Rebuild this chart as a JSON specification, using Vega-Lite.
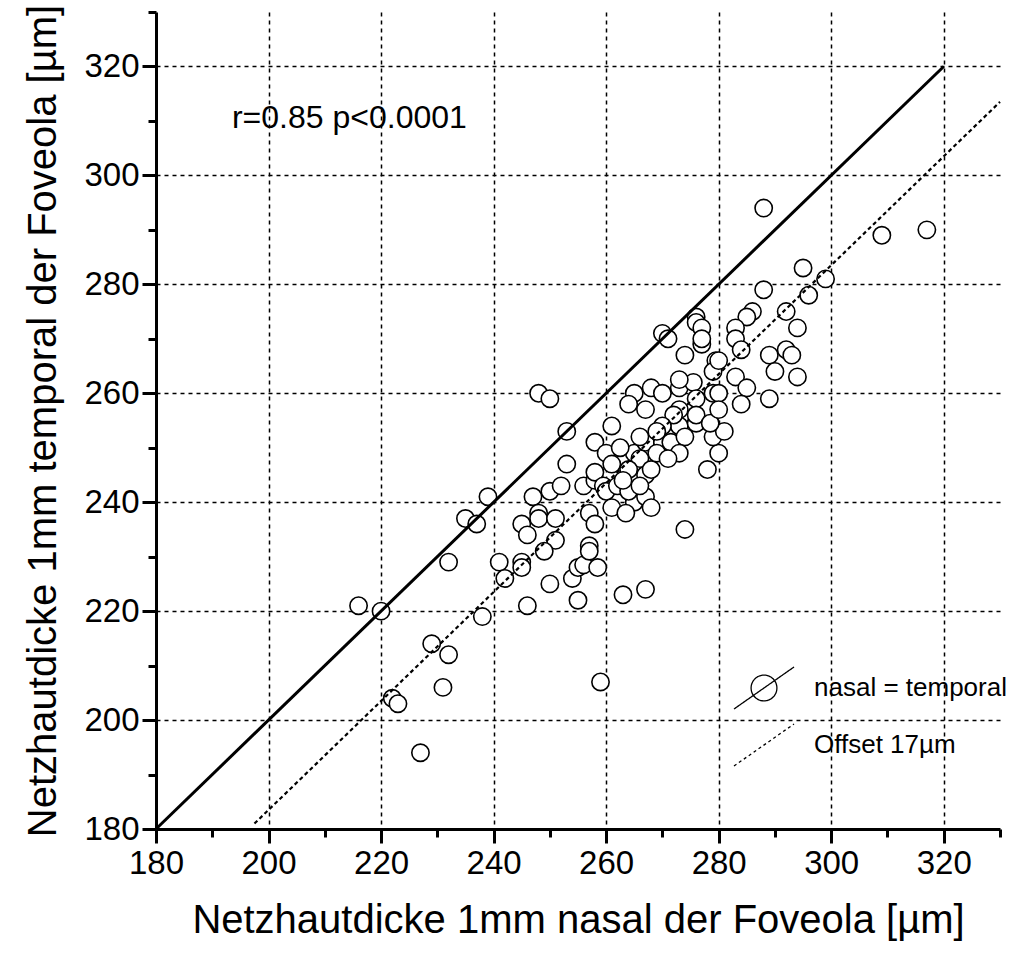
{
  "$schema": "https://vega.github.io/schema/vega-lite/v6.json",
  "width": 844,
  "height": 817,
  "autosize": "none",
  "padding": {"left": 156, "top": 12, "right": 11, "bottom": 129},
  "background": "white",
  "config": {
    "view": {"stroke": null},
    "font": "Liberation Sans"
  },
  "datasets": {
    "points": [
      {"n":216,"t":221},{"n":220,"t":220},{"n":222,"t":204},{"n":223,"t":203},{"n":227,"t":194},{"n":229,"t":214},{"n":231,"t":206},{"n":232,"t":212},{"n":232,"t":229},{"n":235,"t":237},{"n":237,"t":236},{"n":238,"t":219},{"n":239,"t":241},{"n":241,"t":229},{"n":242,"t":226},{"n":245,"t":229},{"n":245,"t":228},{"n":246,"t":221},{"n":245,"t":236},{"n":246,"t":234},{"n":247,"t":241},{"n":248,"t":238},{"n":248,"t":237},{"n":251,"t":237},{"n":251,"t":233},{"n":249,"t":231},{"n":250,"t":225},{"n":250,"t":242},{"n":252,"t":243},{"n":253,"t":253},{"n":253,"t":247},{"n":248,"t":260},{"n":250,"t":259},{"n":254,"t":226},{"n":255,"t":228},{"n":256,"t":228.5},{"n":258.5,"t":228},{"n":255,"t":222},{"n":257,"t":232},{"n":257,"t":231},{"n":263,"t":223},{"n":267,"t":224},{"n":259,"t":207},{"n":274,"t":235},
      {"n":256,"t":243},{"n":258,"t":244},{"n":258,"t":245.5},{"n":259.5,"t":243},{"n":260,"t":242},{"n":261,"t":239},{"n":257,"t":238},{"n":258,"t":236},{"n":258,"t":251},{"n":260,"t":249},{"n":261,"t":247},{"n":261,"t":254},
      {"n":262,"t":243},{"n":265,"t":240},{"n":263.5,"t":238},{"n":264,"t":242},{"n":265,"t":249},{"n":267,"t":251},{"n":270,"t":251},{"n":271.5,"t":251},{"n":273,"t":254},{"n":276,"t":254.5},{"n":274,"t":252},{"n":267,"t":245},{"n":267,"t":241},{"n":268,"t":239},{"n":273,"t":249},{"n":278,"t":246},{"n":280,"t":249},{"n":279,"t":252},{"n":281,"t":253},
      {"n":270,"t":271},{"n":271,"t":270},{"n":276,"t":274},{"n":276,"t":273},{"n":277,"t":272},{"n":277,"t":269},{"n":274,"t":267},{"n":279.5,"t":266},{"n":279,"t":264},{"n":265,"t":260},{"n":268,"t":261},{"n":270,"t":260},{"n":273,"t":261},{"n":275.5,"t":262},{"n":273,"t":262.5},{"n":264,"t":258},{"n":267,"t":257},{"n":273,"t":257},{"n":276,"t":259},{"n":279,"t":260},{"n":272,"t":256},{"n":276,"t":256},{"n":270,"t":254},{"n":278.5,"t":254.5},
      {"n":288,"t":279},{"n":296,"t":278},{"n":299,"t":281},{"n":295,"t":283},{"n":292,"t":275},{"n":294,"t":272},{"n":286,"t":275},{"n":285,"t":274},{"n":283,"t":272},{"n":283,"t":270},{"n":284,"t":268},{"n":280,"t":266},{"n":283,"t":263},{"n":285,"t":261},{"n":284,"t":258},{"n":280,"t":260},{"n":280,"t":257},{"n":289,"t":267},{"n":292,"t":268},{"n":293,"t":267},{"n":290,"t":264},{"n":294,"t":263},{"n":289,"t":259},{"n":277,"t":270},
      {"n":288,"t":294},{"n":309,"t":289},{"n":317,"t":290},
      {"n":266,"t":248},{"n":268,"t":246},{"n":269,"t":249},{"n":264,"t":246},{"n":262.5,"t":250},{"n":266,"t":252},{"n":269,"t":253},{"n":271,"t":248},{"n":263,"t":244},{"n":266,"t":243}
    ],
    "lines": [
      {"line":"nasal = temporal","n":180,"t":180},
      {"line":"nasal = temporal","n":320,"t":320},
      {"line":"Offset 17µm","n":197.5,"t":181},
      {"line":"Offset 17µm","n":330,"t":313.5}
    ],
    "note": [
      {"label": "r=0.85  p<0.0001"}
    ]
  },
  "layer": [
    {
      "data": {"name": "points"},
      "mark": {"type": "point", "shape": "circle", "filled": true, "fill": "white", "stroke": "black", "strokeWidth": 1.6, "size": 300, "opacity": 1},
      "encoding": {
        "x": {
          "field": "n", "type": "quantitative",
          "scale": {"domain": [180, 330], "nice": false, "zero": false},
          "axis": {
            "title": "Netzhautdicke 1mm nasal der Foveola [µm]",
            "values": [180,190,200,210,220,230,240,250,260,270,280,290,300,310,320,330],
            "labelExpr": "datum.value % 20 === 0 && datum.value <= 320 ? datum.label : ''",
            "tickSize": {"condition": {"test": "datum.value % 20 === 0 && datum.value <= 320", "value": 14}, "value": 8},
            "gridOpacity": {"condition": {"test": "datum.value % 20 === 0 && datum.value > 180 && datum.value <= 320", "value": 1}, "value": 0},
            "grid": true, "gridDash": [4, 4], "gridColor": "black", "gridWidth": 1.5,
            "domainColor": "black", "domainWidth": 3, "tickColor": "black", "tickWidth": 3,
            "labelFont": "Liberation Sans", "labelFontSize": 33, "labelColor": "black", "labelPadding": 4,
            "labelFlush": false, "labelOverlap": false,
            "titleFont": "Liberation Sans", "titleFontSize": 40, "titleFontWeight": "normal", "titleColor": "black", "titlePadding": 20
          }
        },
        "y": {
          "field": "t", "type": "quantitative",
          "scale": {"domain": [180, 330], "nice": false, "zero": false},
          "axis": {
            "title": "Netzhautdicke 1mm temporal der Foveola [µm]",
            "values": [180,190,200,210,220,230,240,250,260,270,280,290,300,310,320,330],
            "labelExpr": "datum.value % 20 === 0 && datum.value <= 320 ? datum.label : ''",
            "tickSize": {"condition": {"test": "datum.value % 20 === 0 && datum.value <= 320", "value": 14}, "value": 8},
            "gridOpacity": {"condition": {"test": "datum.value % 20 === 0 && datum.value > 180 && datum.value <= 320", "value": 1}, "value": 0},
            "grid": true, "gridDash": [4, 4], "gridColor": "black", "gridWidth": 1.5,
            "domainColor": "black", "domainWidth": 3, "tickColor": "black", "tickWidth": 3,
            "labelFont": "Liberation Sans", "labelFontSize": 33, "labelColor": "black", "labelPadding": 3,
            "labelFlush": false, "labelOverlap": false,
            "titleFont": "Liberation Sans", "titleFontSize": 40, "titleFontWeight": "normal", "titleColor": "black", "titlePadding": 20
          }
        }
      }
    },
    {
      "data": {"name": "lines"},
      "transform": [{"filter": "datum.line === 'nasal = temporal'"}],
      "mark": {"type": "line", "color": "black", "strokeWidth": 3},
      "encoding": {
        "x": {"field": "n", "type": "quantitative"},
        "y": {"field": "t", "type": "quantitative"}
      }
    },
    {
      "data": {"name": "lines"},
      "transform": [{"filter": "datum.line === 'Offset 17µm'"}],
      "mark": {"type": "line", "color": "black", "strokeWidth": 2.2, "strokeDash": [4, 3]},
      "encoding": {
        "x": {"field": "n", "type": "quantitative"},
        "y": {"field": "t", "type": "quantitative"}
      }
    },
    {
      "data": {"name": "lines"},
      "mark": {"type": "point", "opacity": 0, "filled": false, "stroke": "black", "strokeWidth": 1.5},
      "encoding": {
        "x": {"field": "n", "type": "quantitative"},
        "y": {"field": "t", "type": "quantitative"},
        "shape": {
          "field": "line", "type": "nominal",
          "scale": {"domain": ["nasal = temporal", "Offset 17µm"], "range": ["M-1,0.7L1,-0.7M0.43,0A0.43,0.43 0 1 1 -0.43,0A0.43,0.43 0 1 1 0.43,0", "M-1,0.7L1,-0.7"]},
          "legend": {"title": null, "orient": "none", "legendX": 577, "legendY": 645, "symbolSize": 3600, "symbolStrokeWidth": 1.3, "symbolStrokeColor": "black", "symbolFillColor": "transparent", "symbolOpacity": 1, "labelFont": "Liberation Sans", "labelFontSize": 26, "labelColor": "black", "labelOffset": 19, "labelLimit": 400, "rowPadding": 2, "padding": 0}
        },
        "strokeDash": {
          "field": "line", "type": "nominal",
          "scale": {"domain": ["nasal = temporal", "Offset 17µm"], "range": [[1, 0], [3, 3]]},
          "legend": {"title": null, "orient": "none", "legendX": 577, "legendY": 645, "symbolSize": 3600, "symbolStrokeWidth": 1.3, "symbolStrokeColor": "black", "symbolFillColor": "transparent", "symbolOpacity": 1, "labelFont": "Liberation Sans", "labelFontSize": 26, "labelColor": "black", "labelOffset": 19, "labelLimit": 400, "rowPadding": 2, "padding": 0}
        }
      }
    },
    {
      "data": {"name": "note"},
      "mark": {"type": "text", "align": "left", "baseline": "middle", "fontSize": 32, "font": "Liberation Sans", "color": "black"},
      "encoding": {
        "text": {"field": "label", "type": "nominal"},
        "x": {"datum": 193.5, "type": "quantitative"},
        "y": {"datum": 310.6, "type": "quantitative"}
      }
    }
  ]
}
